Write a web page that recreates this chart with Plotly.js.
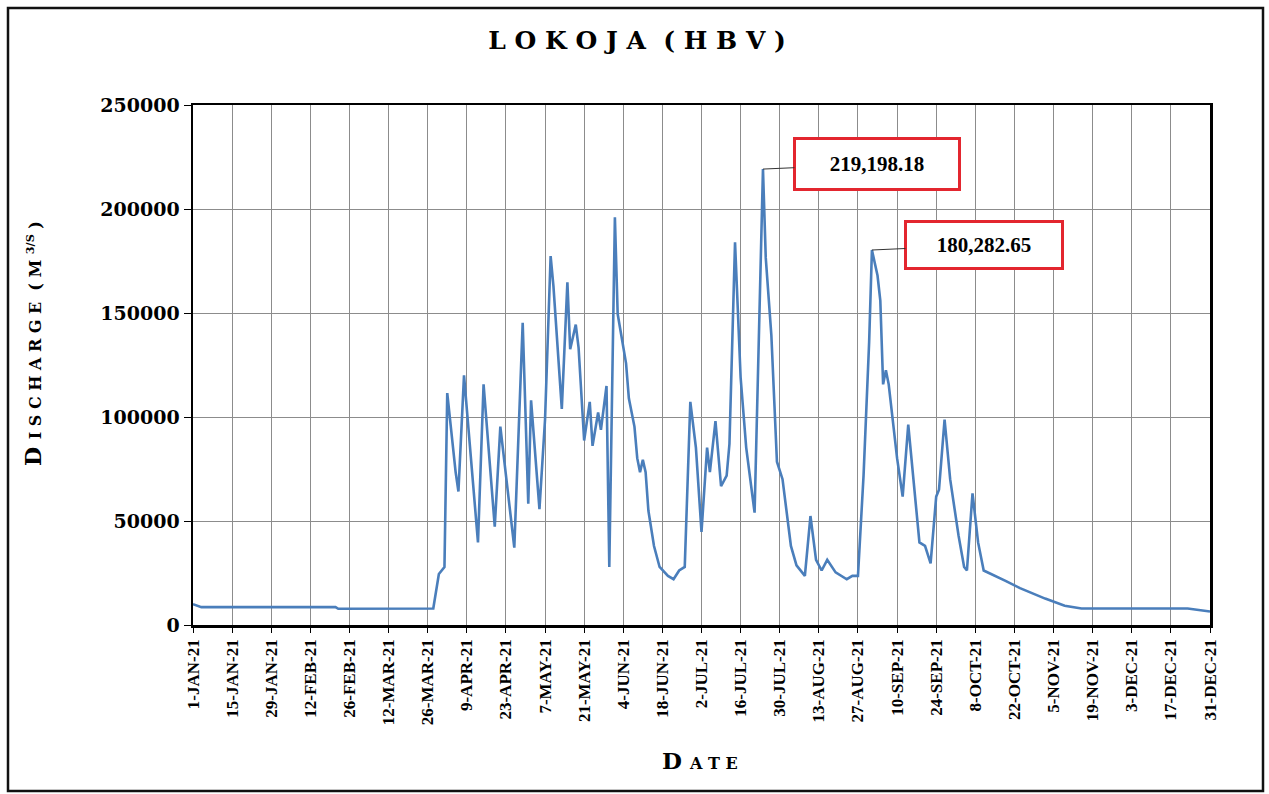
<!DOCTYPE html>
<html>
<head>
<meta charset="utf-8">
<script src="https://cdn.plot.ly/plotly-3.0.1.min.js"></script>
<style>
html, body { margin: 0; padding: 0; background: #ffffff; }
#chart { width: 1269px; height: 794px; }
</style>
</head>
<body>
<div id="chart"></div>
<script>
// Discharge series vertices (date, m3/s)
const dates = [
  '2021-01-01','2021-01-04','2021-02-21','2021-02-22','2021-03-28','2021-03-30','2021-04-01','2021-04-02',
  '2021-04-05','2021-04-06','2021-04-08','2021-04-13','2021-04-15','2021-04-19','2021-04-21','2021-04-26',
  '2021-04-29','2021-05-01','2021-05-02','2021-05-05','2021-05-07','2021-05-09','2021-05-10','2021-05-13',
  '2021-05-15','2021-05-16','2021-05-18','2021-05-19','2021-05-21','2021-05-23','2021-05-24','2021-05-26',
  '2021-05-27','2021-05-29','2021-05-30','2021-06-01','2021-06-02','2021-06-05','2021-06-06','2021-06-08',
  '2021-06-09','2021-06-10','2021-06-11','2021-06-12','2021-06-13','2021-06-15','2021-06-17','2021-06-20',
  '2021-06-22','2021-06-24','2021-06-26','2021-06-28','2021-06-30','2021-07-02','2021-07-04','2021-07-05',
  '2021-07-07','2021-07-09','2021-07-11','2021-07-12','2021-07-14','2021-07-16','2021-07-18','2021-07-20',
  '2021-07-21','2021-07-24','2021-07-25','2021-07-27','2021-07-29','2021-07-31','2021-08-03','2021-08-05',
  '2021-08-08','2021-08-10','2021-08-12','2021-08-14','2021-08-16','2021-08-19','2021-08-23','2021-08-25',
  '2021-08-27','2021-08-29','2021-08-31','2021-09-01','2021-09-03','2021-09-04','2021-09-05','2021-09-06',
  '2021-09-07','2021-09-10','2021-09-12','2021-09-14','2021-09-16','2021-09-18','2021-09-20','2021-09-22',
  '2021-09-24','2021-09-25','2021-09-27','2021-09-29','2021-10-02','2021-10-04','2021-10-05','2021-10-07',
  '2021-10-09','2021-10-11','2021-10-19','2021-10-24','2021-11-02','2021-11-09','2021-11-15','2021-12-23',
  '2021-12-31'
];
const discharge = [
  10000, 8600, 8600, 7800, 7900, 24500, 27900, 111500,
  73500, 64200, 120000, 39700, 115700, 47300, 95400, 37200,
  145300, 58300, 108000, 55700, 98800, 177400, 163000, 103900,
  164700, 132600, 144400, 133400, 88700, 107300, 86100, 102200,
  93800, 114900, 27900, 196000, 149500, 125800, 109000, 95400,
  80200, 73500, 79400, 73500, 54900, 38000, 27900, 23600,
  22000, 26200, 27900, 107300, 85300, 44800, 85300, 73500,
  98000, 66700, 71800, 87000, 184000, 119000, 85300, 63300,
  54000, 219198.18, 176500, 139400, 78500, 70100, 38000, 28700,
  23600, 52400, 31300, 26200, 31300, 25300, 22000, 23600,
  23600, 71800, 136000, 180282.65, 168000, 156000, 115700, 122500,
  115700, 80200, 61700, 96300, 66700, 39700, 38000, 29600,
  61700, 65000, 98800, 70100, 43000, 27900, 26200, 63300,
  39700, 26200, 21100, 17700, 12700, 9300, 7900, 7900,
  6500
];

// Tick positions (every 14 days) and labels
const tickDates = [
  '2021-01-01','2021-01-15','2021-01-29','2021-02-12','2021-02-26','2021-03-12','2021-03-26',
  '2021-04-09','2021-04-23','2021-05-07','2021-05-21','2021-06-04','2021-06-18','2021-07-02',
  '2021-07-16','2021-07-30','2021-08-13','2021-08-27','2021-09-10','2021-09-24','2021-10-08',
  '2021-10-22','2021-11-05','2021-11-19','2021-12-03','2021-12-17','2021-12-31'
];
const tickLabels = [
  '1-JAN-21','15-JAN-21','29-JAN-21','12-FEB-21','26-FEB-21','12-MAR-21','26-MAR-21',
  '9-APR-21','23-APR-21','7-MAY-21','21-MAY-21','4-JUN-21','18-JUN-21','2-JUL-21',
  '16-JUL-21','30-JUL-21','13-AUG-21','27-AUG-21','10-SEP-21','24-SEP-21','8-OCT-21',
  '22-OCT-21','5-NOV-21','19-NOV-21','3-DEC-21','17-DEC-21','31-DEC-21'
];
const yTicks = [0, 50000, 100000, 150000, 200000, 250000];

// Highlighted peaks
const peakDates = ['2021-07-24', '2021-09-01'];
const peakValues = [219198.18, 180282.65];
const peakLabels = ['219,198.18', '180,282.65'];

const serif = 'Liberation Serif, Times New Roman, serif';
const dserif = 'DejaVu Serif, serif';

const trace = {
  x: dates, y: discharge, type: 'scatter', mode: 'lines',
  line: { color: '#4a7ebb', width: 2.6 },
  hoverinfo: 'x+y'
};

const annotations = peakDates.map((d, i) => ({
  x: d, y: peakValues[i], xref: 'x', yref: 'y',
  text: peakLabels[i],
  showarrow: true, arrowhead: 0, arrowwidth: 1, arrowcolor: '#333333',
  ax: i === 0 ? 114 : 112, ay: -5,
  width: i === 0 ? 158 : 150, height: i === 0 ? 44 : 40,
  bgcolor: '#ffffff', bordercolor: '#e3262f', borderwidth: 3, borderpad: 2,
  font: { family: serif, size: 21, color: '#000000', weight: 'bold' }
}));

annotations.push({
  xref: 'paper', yref: 'paper', x: (33 - 193) / 1017, y: (625 - 344) / 520,
  text: 'D <span style="font-size:16px">I S C H A R G E  ( M <sup>3/S</sup> )</span>',
  textangle: -90, showarrow: false, xanchor: 'center', yanchor: 'middle',
  font: { family: dserif, size: 22, color: '#000000', weight: 'bold' }
});
annotations.push({
  xref: 'paper', yref: 'paper', x: (700 - 193) / 1017, y: (625 - 760) / 520,
  text: 'D <span style="font-size:16px">A T E</span>',
  showarrow: false, xanchor: 'center', yanchor: 'middle',
  font: { family: dserif, size: 23, color: '#000000', weight: 'bold' }
});

const layout = {
  width: 1269, height: 794,
  margin: { l: 193, r: 59, t: 105, b: 169 },
  paper_bgcolor: '#ffffff', plot_bgcolor: '#ffffff',
  showlegend: false,
  title: {
    text: 'L O K O J A  ( H B V )',
    x: 0.502, xref: 'container', xanchor: 'center',
    y: 1 - 40 / 794, yref: 'container', yanchor: 'middle',
    font: { family: dserif, size: 25, color: '#000000', weight: 'bold' }
  },
  xaxis: {
    type: 'date',
    range: ['2021-01-01', '2021-12-31'],
    tickmode: 'array', tickvals: tickDates, ticktext: tickLabels,
    tickangle: -90,
    tickfont: { family: serif, size: 17, color: '#000000', weight: 'bold' },
    ticks: 'outside', ticklen: 5, tickcolor: '#000000', tickwidth: 1,
    showgrid: true, gridcolor: '#8c8c8c', gridwidth: 1,
    showline: true, linecolor: '#000000', linewidth: 2.5, mirror: true,
    zeroline: false, fixedrange: true
  },
  yaxis: {
    range: [0, 250000],
    tickmode: 'array', tickvals: yTicks, ticktext: yTicks.map(String),
    tickfont: { family: dserif, size: 19, color: '#000000', weight: 'bold' },
    ticks: 'outside', ticklen: 7, tickcolor: '#000000', tickwidth: 1,
    showgrid: true, gridcolor: '#8c8c8c', gridwidth: 1,
    showline: true, linecolor: '#000000', linewidth: 2.5, mirror: true,
    zeroline: false, fixedrange: true
  },
  shapes: [{
    type: 'rect', xref: 'paper', yref: 'paper',
    x0: (8 - 193) / 1017, x1: (1263 - 193) / 1017,
    y0: (625 - 791) / 520, y1: (625 - 8) / 520,
    line: { color: '#111111', width: 2.5 }, fillcolor: 'rgba(0,0,0,0)', layer: 'above'
  }],
  annotations: annotations
};

Plotly.newPlot('chart', [trace], layout, { displayModeBar: false, staticPlot: true });
</script>
</body>
</html>
